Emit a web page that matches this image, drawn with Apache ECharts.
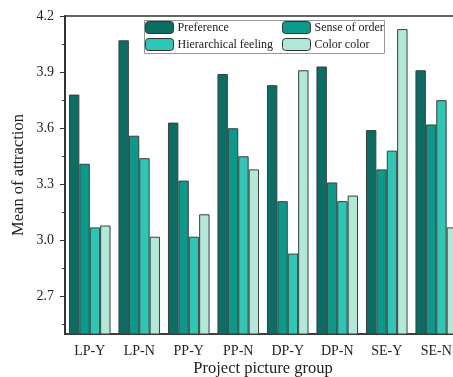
<!DOCTYPE html>
<html><head><meta charset="utf-8">
<script src="https://cdn.jsdelivr.net/npm/echarts@6/dist/echarts.min.js"></script>
<style>html,body{margin:0;padding:0;background:#fff}#c{width:453px;height:377px}</style>
</head><body><div id="c"></div>
<script>
const categories = ['LP-Y','LP-N','PP-Y','PP-N','DP-Y','DP-N','SE-Y','SE-N'];
const preference = [3.78, 4.07, 3.63, 3.89, 3.83, 3.93, 3.59, 3.91];
const senseOfOrder = [3.41, 3.56, 3.32, 3.60, 3.21, 3.31, 3.38, 3.62];
const hierarchical = [3.07, 3.44, 3.02, 3.45, 2.93, 3.21, 3.48, 3.75];
const colorColor = [3.08, 3.02, 3.14, 3.38, 3.91, 3.24, 4.13, 3.07];
const yMajorTicks = [2.7, 3.0, 3.3, 3.6, 3.9, 4.2];
const yMinorTicks = [2.55, 2.85, 3.15, 3.45, 3.75, 4.05];

const font = '"Liberation Serif", "Times New Roman", serif';
const chart = echarts.init(document.getElementById('c'), null, {renderer: 'canvas'});
function bar(name, data, color) {
  return {name, type: 'bar', data, barGap: '0%', barCategoryGap: '16%',
    itemStyle: {color, borderColor: '#3d3d3d', borderWidth: 1}};
}
const legendCommon = {orient: 'vertical', top: 21, itemWidth: 28, itemHeight: 12, itemGap: 4, padding: 0,
  textStyle: {fontFamily: font, fontSize: 12, color: '#222', padding: [0, 0, 0, -1]},
  itemStyle: {borderColor: '#333', borderWidth: 1}};
chart.setOption({
  animation: false,
  textStyle: {fontFamily: font},
  grid: {left: 65, top: 16, width: 396, height: 318, outerBoundsMode: 'none', containLabel: false,
    show: true, borderColor: '#333', borderWidth: 1.5},
  legend: [
    Object.assign({data: ['Preference', 'Hierarchical feeling'], left: 145}, legendCommon),
    Object.assign({data: ['Sense of order', 'Color color'], left: 282}, legendCommon)
  ],
  graphic: [{type: 'rect', left: 142, top: 18, shape: {width: 240, height: 33},
    style: {fill: 'none', stroke: '#999', lineWidth: 1}, z: 100}],
  xAxis: {type: 'category', data: categories,
    name: 'Project picture group', nameLocation: 'middle', nameGap: 26, nameMoveOverlap: false,
    nameTextStyle: {fontFamily: font, fontSize: 16.5, color: '#222'},
    axisLine: {lineStyle: {color: '#333', width: 1.5}},
    axisTick: {show: false},
    axisLabel: {fontFamily: font, fontSize: 14, color: '#222', margin: 10}},
  yAxis: [
    {type: 'value', min: 2.5, max: 4.2,
     name: 'Mean of attraction', nameLocation: 'middle', nameGap: 38, nameMoveOverlap: false,
     nameTextStyle: {fontFamily: font, fontSize: 16.5, color: '#222'},
     axisLine: {show: true, lineStyle: {color: '#333', width: 2}},
     splitLine: {show: false},
     axisTick: {show: true, length: 5, customValues: yMajorTicks, lineStyle: {color: '#333'}},
     axisLabel: {fontFamily: font, fontSize: 14, color: '#222', margin: 11,
       customValues: yMajorTicks, formatter: v => v.toFixed(1)}},
    {type: 'value', min: 2.5, max: 4.2, position: 'left',
     axisLine: {show: false}, splitLine: {show: false},
     axisTick: {show: true, length: 3, customValues: yMinorTicks, lineStyle: {color: '#333'}},
     axisLabel: {show: false}}
  ],
  series: [
    bar('Preference', preference, '#0a6e65'),
    bar('Sense of order', senseOfOrder, '#0a9a8c'),
    bar('Hierarchical feeling', hierarchical, '#2cc7b5'),
    bar('Color color', colorColor, '#b2e8d8')
  ]
});
</script></body></html>
